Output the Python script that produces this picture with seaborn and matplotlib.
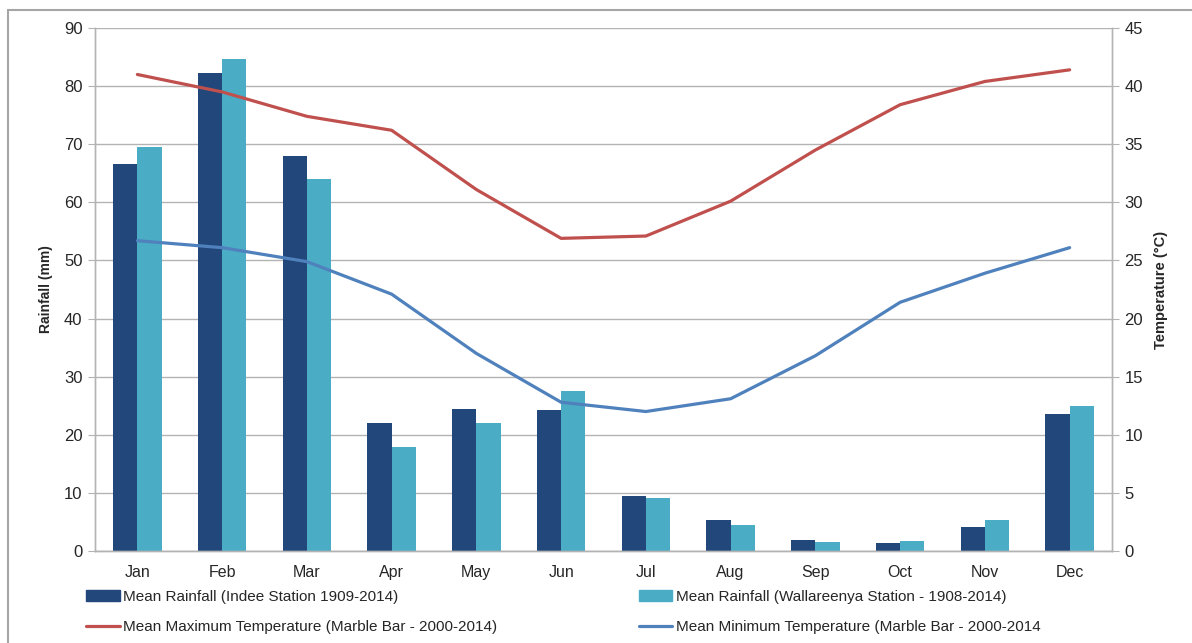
import numpy as np
import pandas as pd
import matplotlib
matplotlib.use('Agg')
import matplotlib.pyplot as plt
from matplotlib.patches import Rectangle
import seaborn as sns

months = ['Jan', 'Feb', 'Mar', 'Apr', 'May', 'Jun', 'Jul', 'Aug', 'Sep', 'Oct', 'Nov', 'Dec']
rain_indee = [66.6, 82.2, 67.9, 22.0, 24.5, 24.2, 9.4, 5.4, 1.9, 1.3, 4.2, 23.6]
rain_wall = [69.6, 84.7, 64.1, 17.9, 22.0, 27.6, 9.1, 4.4, 1.6, 1.7, 5.4, 25.0]
tmax = [41.0, 39.5, 37.4, 36.2, 31.1, 26.9, 27.1, 30.1, 34.5, 38.4, 40.4, 41.4]
tmin = [26.7, 26.1, 24.9, 22.1, 17.0, 12.8, 12.0, 13.1, 16.8, 21.4, 23.9, 26.1]

lbl_indee = 'Mean Rainfall (Indee Station 1909-2014)'
lbl_wall = 'Mean Rainfall (Wallareenya Station - 1908-2014)'
lbl_max = 'Mean Maximum Temperature (Marble Bar - 2000-2014)'
lbl_min = 'Mean Minimum Temperature (Marble Bar - 2000-2014'

sns.set_style('white')
plt.rcParams['font.family'] = ['Liberation Sans', 'DejaVu Sans']

df = pd.DataFrame({
    'month': months * 2,
    'rain': rain_indee + rain_wall,
    'series': [lbl_indee] * 12 + [lbl_wall] * 12,
})

fig = plt.figure(figsize=(11.92, 6.43), dpi=100)
ax = fig.add_axes([95 / 1192, 92 / 643, (1112 - 95) / 1192, (551 - 28) / 643])

grid_c = '#b3b3b3'
ax.set_axisbelow(True)
ax.yaxis.grid(True, color=grid_c, linewidth=1)

sns.barplot(data=df, x='month', y='rain', hue='series', ax=ax,
            palette=['#21477b', '#4bacc6'], width=0.57, saturation=1,
            edgecolor='none', legend=False)

ax.set_ylim(0, 90)
ax.set_yticks(np.arange(0, 91, 10))
ax.set_xlim(-0.5, 11.5)
ax.set_xlabel('')
ax.set_ylabel('Rainfall (mm)', fontsize=10, fontweight='bold', labelpad=8)
ax.set_xticks(range(12))
ax.set_xticklabels(months)
ax.set_xticks(np.arange(-0.5, 12, 1), minor=True)
ax.tick_params(axis='x', which='major', length=0, labelsize=11.5, pad=10)
ax.tick_params(axis='x', which='minor', length=5, color=grid_c, width=1)
ax.tick_params(axis='y', length=5, color=grid_c, labelsize=12, pad=4, left=True)

ax2 = ax.twinx()
x = np.arange(12)
sns.lineplot(x=x, y=tmax, ax=ax2, color='#c0504d', linewidth=2.3)
sns.lineplot(x=x, y=tmin, ax=ax2, color='#4f81bd', linewidth=2.3)
ax2.set_ylim(0, 45)
ax2.set_yticks(np.arange(0, 46, 5))
ax2.set_ylabel('Temperature (°C)', fontsize=10.5, fontweight='bold', labelpad=8)
ax2.tick_params(axis='y', length=5, color=grid_c, labelsize=12, pad=4, right=True)

for a in (ax, ax2):
    a.spines['top'].set_visible(False)
    for s in ('left', 'right', 'bottom'):
        a.spines[s].set_color(grid_c)
        a.spines[s].set_linewidth(1)

h_indee = Rectangle((0, 0), 1, 1, color='#21477b')
h_wall = Rectangle((0, 0), 1, 1, color='#4bacc6')
h_max = plt.Line2D([], [], color='#c0504d', linewidth=2.3)
h_min = plt.Line2D([], [], color='#4f81bd', linewidth=2.3)
fig.legend([h_indee, h_max, h_wall, h_min], [lbl_indee, lbl_max, lbl_wall, lbl_min],
           loc='upper left', bbox_to_anchor=(86 / 1192, 1 - 590 / 643),
           ncol=2, frameon=False, fontsize=11, handlelength=2.2,
           handleheight=0.7, handletextpad=0.2, columnspacing=9.3,
           labelspacing=1.08, borderaxespad=0, borderpad=0)

frame = Rectangle((8 / 1192, -0.2), 1.2, 1.2 - 10 / 643, transform=fig.transFigure,
                  fill=False, edgecolor='#a6a6a6', linewidth=1.5)
fig.patches.append(frame)

fig.savefig('out.png', dpi=100)
